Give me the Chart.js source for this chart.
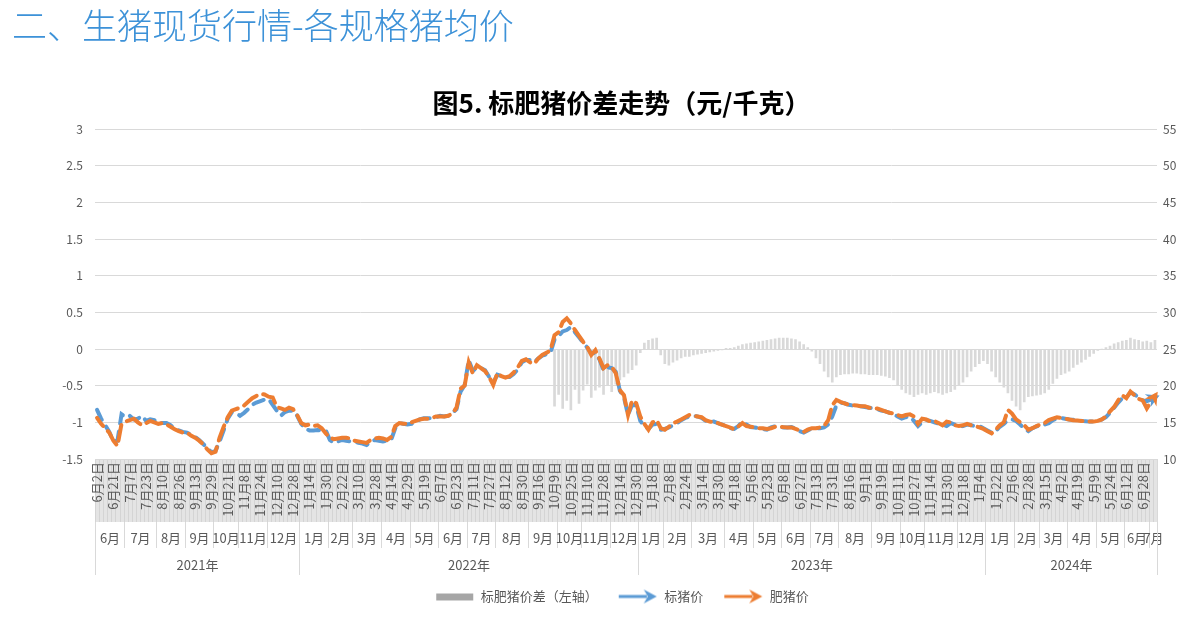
<!DOCTYPE html>
<html>
<head>
<meta charset="utf-8">
<script src="https://cdn.jsdelivr.net/npm/chart.js@4.4.1/dist/chart.umd.min.js"></script>
<style>
  html, body { margin: 0; padding: 0; background: #fff; }
  #wrap { position: relative; width: 1199px; height: 623px; }
  #head { position: absolute; left: 12px; top: -2px; font: 300 35px "Noto Sans CJK SC", sans-serif; color: #3d92d8; white-space: nowrap; }
  canvas { position: absolute; left: 0; top: 0; }
</style>
</head>
<body>
<div id="wrap">
  <canvas id="chart" width="1199" height="623"></canvas>
  <div id="head">二、生猪现货行情-各规格猪均价</div>
</div>
<script>
// day labels shown under the axis, one every 4 points
const dayLabels = [
  "6月2日", "6月21日", "7月7日", "7月23日", "8月10日", "8月26日", "9月13日", "9月29日", "10月21日", "11月8日", "11月24日", "12月10日", "12月28日",
  "1月14日", "1月30日", "2月22日", "3月10日", "3月28日", "4月14日", "4月29日", "5月19日", "6月7日", "6月23日", "7月11日", "7月27日", "8月12日", "8月30日", "9月16日", "10月9日", "10月25日", "11月10日", "11月28日", "12月14日", "12月30日",
  "1月18日", "2月8日", "2月24日", "3月14日", "3月30日", "4月18日", "5月6日", "5月23日", "6月8日", "6月27日", "7月13日", "7月31日", "8月16日", "9月1日", "9月19日", "10月11日", "10月27日", "11月14日", "11月30日", "12月18日",
  "1月4日", "1月22日", "2月6日", "2月28日", "3月15日", "4月2日", "4月19日", "5月9日", "5月24日", "6月12日", "6月28日"
];

const monthLabels = [
  "6月", "7月", "8月", "9月", "10月", "11月", "12月",
  "1月", "2月", "3月", "4月", "5月", "6月", "7月", "8月", "9月", "10月", "11月", "12月",
  "1月", "2月", "3月", "4月", "5月", "6月", "7月", "8月", "9月", "10月", "11月", "12月",
  "1月", "2月", "3月", "4月", "5月", "6月", "7月"
];
// number of points falling in each month
const monthCounts = [
  7, 8, 7, 7, 6, 7, 8,
  7, 6, 7, 7, 7, 7, 7, 8, 7, 6, 7, 7,
  6, 7, 8, 7, 7, 7, 7, 8, 7, 6, 8, 7,
  7, 6, 7, 7, 7, 6, 2
];
const yearLabels = ["2021年", "2022年", "2023年", "2024年"];
const yearMonths = [7, 12, 12, 7];

// 标猪价 (元/千克, right axis)
const stdPrice = [
  16.7, 15.5, 14.6, 13.7, 12.4, 12.5, 16.1, 15.7, 15.9, 15.4,
  15.5, 15.9, 15.2, 15.4, 15.3, 14.9, 14.9, 14.9, 14.6, 14.2,
  13.9, 13.7, 13.6, 13.3, 13.0, 12.6, 12.05, 11.5, 10.9, 11.1,
  12.4, 13.9, 15.5, 16.4, 16.3, 15.9, 16.3, 16.8, 17.4, 17.7,
  17.9, 18.1, 18.2, 17.4, 16.6, 15.9, 16.4, 16.6, 16.6, 15.9,
  14.8, 14.1, 13.9, 13.9, 13.95, 13.9, 13.9, 12.6, 12.2, 12.4,
  12.6, 12.5, 12.4, 12.4, 12.2, 12.1, 11.9, 12.3, 12.6, 12.5,
  12.4, 12.5, 12.6, 14.2, 14.9, 14.8, 14.7, 14.8, 15.1, 15.4,
  15.55, 15.55, 15.6, 15.7, 15.9, 15.8, 15.9, 16.3, 16.8, 19.2,
  20.1, 23.5, 22.0, 22.5, 22.4, 22.1, 21.2, 20.4, 21.5, 21.3,
  21.2, 21.2, 21.6, 22.2, 23.2, 23.5, 23.5, 23.2, 23.7, 24.1,
  24.3, 24.5, 26.3, 26.8, 27.4, 27.6, 28.0, 27.3, 26.6, 25.9,
  25.2, 24.4, 24.5, 23.6, 22.1, 22.5, 22.4, 21.9, 19.3, 18.4,
  16.0, 17.4, 17.3, 15.2, 14.5, 14.1, 14.7, 14.8, 14.0, 14.1,
  14.3, 14.6, 14.9, 15.3, 15.6, 15.8, 15.9, 15.8, 15.6, 15.2,
  15.1, 15.1, 14.9, 14.7, 14.5, 14.2, 14.1, 14.5, 15.1, 14.7,
  14.35, 14.3, 14.2, 14.1, 14.0, 14.3, 14.45, 14.4, 14.3, 14.3,
  14.35, 14.2, 13.8, 13.6, 13.9, 14.2, 14.2, 14.2, 14.3, 14.7,
  15.8, 17.3, 17.7, 17.6, 17.4, 17.3, 17.25, 17.2, 17.1, 17.0,
  16.9, 16.8, 16.6, 16.5, 16.3, 16.1, 15.8, 15.5, 15.7, 15.8,
  15.2, 14.5, 15.0, 15.3, 15.2, 15.0, 14.85, 14.7, 14.5, 14.9,
  14.7, 14.4, 14.5, 14.7, 14.6, 14.5, 14.5, 14.2, 13.9, 13.6,
  13.8, 14.4, 14.8, 15.3, 15.4, 15.2, 14.7, 14.1, 13.8, 14.2,
  14.45, 14.55, 14.7, 14.9, 15.3, 15.5, 15.6, 15.5, 15.4, 15.35,
  15.3, 15.2, 15.15, 15.1, 15.1, 15.2, 15.4, 15.7, 16.3, 17.0,
  17.7, 18.3, 18.4, 19.1, 18.8, 18.4, 18.0, 17.9, 18.1, 18.4
];

// 肥猪价 (元/千克, right axis)
const fatPrice = [
  15.6, 14.8, 14.2, 13.6, 12.5, 11.8, 14.8, 15.1, 15.3, 15.5,
  15.0, 14.6, 14.9, 15.2, 15.0, 14.8, 14.9, 14.7, 14.4, 14.05,
  13.8, 13.6, 13.6, 13.2, 12.9, 12.5, 12.0, 11.3, 10.8, 11.0,
  12.9, 14.4, 15.7, 16.6, 16.8, 17.0, 17.3, 17.8, 18.3, 18.6,
  18.9, 18.8, 18.5, 18.4, 17.1, 16.9, 16.7, 17.0, 16.8, 16.0,
  14.9, 14.6, 14.7, 14.5, 14.6, 14.2, 13.5, 12.9, 12.7, 12.8,
  12.9, 12.9, 12.8, 12.5, 12.4, 12.3, 12.2, 12.6, 12.8, 12.9,
  12.8, 12.6, 13.0, 14.5, 14.9, 14.8, 14.8, 15.0, 15.2, 15.4,
  15.5, 15.5, 15.6, 15.8, 15.8, 15.8, 15.9, 16.2, 17.0, 19.6,
  20.0, 23.2, 21.7, 22.8, 22.4, 22.0, 21.2, 20.1, 21.7, 21.3,
  21.1, 21.3, 21.8, 22.5, 23.4, 23.6, 23.2, 23.0, 23.7, 24.2,
  24.5, 24.8, 26.9, 27.3, 28.7, 29.2, 28.5, 27.6, 26.8, 26.0,
  25.3, 24.2, 24.85, 23.7, 22.4, 22.8, 22.6, 21.7, 19.4, 18.7,
  16.0, 18.0, 17.6, 15.8, 14.8, 14.0, 15.0, 15.3, 14.2, 14.0,
  14.4, 14.9, 15.1, 15.4, 15.7, 16.0, 15.9, 15.8, 15.7, 15.3,
  15.1, 15.0, 14.9, 14.7, 14.5, 14.3, 14.05, 14.45, 14.9, 14.5,
  14.4, 14.3, 14.2, 14.2, 14.1, 14.2, 14.4, 14.4, 14.35, 14.3,
  14.3, 14.1, 13.9, 13.7, 14.0, 14.2, 14.2, 14.3, 14.5, 15.3,
  17.35, 18.05, 17.8, 17.6, 17.4, 17.35, 17.3, 17.2, 17.2, 17.0,
  16.9, 16.9, 16.7, 16.5, 16.3, 16.2, 16.0, 15.8, 16.0, 16.1,
  15.8, 14.8, 15.5, 15.4, 15.1, 15.2, 14.9, 14.6, 15.1, 15.0,
  14.6, 14.5, 14.6, 14.8, 14.6, 14.5, 14.3, 14.1, 13.8, 13.5,
  14.0, 14.6, 15.0, 16.7, 16.2, 15.4, 15.0, 14.6, 14.0, 14.2,
  14.5, 14.7, 14.9, 15.3, 15.5, 15.7, 15.6, 15.5, 15.4, 15.3,
  15.25, 15.2, 15.15, 15.1, 15.1, 15.2, 15.4, 15.8, 16.5, 17.1,
  18.0, 18.7, 18.3, 19.2, 18.7, 18.2, 18.0, 16.9, 17.8, 18.6
];

// 标肥猪价差 (left axis), no values before Oct 2022
const priceDiff = new Array(112).fill(null).concat([
  -0.78, -0.62, -0.81, -0.70, -0.83, -0.55, -0.74, -0.56,
  -0.48, -0.66, -0.56, -0.52, -0.62, -0.50, -0.58, -0.48, -0.42, -0.38,
  -0.33, -0.28, -0.22, -0.05, 0.08, 0.12, 0.14, 0.15, -0.08, -0.2,
  -0.22, -0.18, -0.15, -0.12, -0.1, -0.1, -0.08, -0.07, -0.06, -0.05,
  -0.04, -0.03, -0.02, -0.01, 0.01, 0.01, 0.02, 0.04, 0.06, 0.07,
  0.08, 0.09, 0.1, 0.11, 0.12, 0.13, 0.14, 0.15, 0.15, 0.15,
  0.14, 0.13, 0.1, 0.06, 0.02, -0.03, -0.12, -0.2, -0.3, -0.38,
  -0.45, -0.38, -0.35, -0.34, -0.34, -0.33, -0.33, -0.34, -0.34, -0.35,
  -0.35, -0.35, -0.36, -0.37, -0.39, -0.42, -0.5, -0.55, -0.6, -0.62,
  -0.65, -0.62, -0.6, -0.62, -0.6, -0.58, -0.6, -0.62, -0.6, -0.58,
  -0.55, -0.5, -0.45, -0.38, -0.3, -0.24, -0.2, -0.16, -0.2, -0.3,
  -0.38, -0.45, -0.52, -0.6, -0.7, -0.78, -0.83, -0.72, -0.65, -0.64,
  -0.63, -0.62, -0.6, -0.55, -0.47, -0.4, -0.35, -0.33, -0.3, -0.25,
  -0.21, -0.18, -0.14, -0.1, -0.06, -0.02, 0.0, 0.02, 0.04, 0.07,
  0.09, 0.11, 0.12, 0.15, 0.13, 0.12, 0.1, 0.11, 0.09, 0.12
]);

const FONT = '"Noto Sans CJK SC", "Noto Sans", sans-serif';
const TEXT = "#595959";
const BLUE = "#5b9bd5";
const ORANGE = "#ed7d31";
const BARGREY = "#d9d9d9";

const labels = stdPrice.map((v, i) => (i % 4 === 0 ? dayLabels[i / 4] : ""));

function legendIcon(kind, color) {
  const c = document.createElement("canvas");
  c.width = 40;
  c.height = 16;
  const g = c.getContext("2d");
  g.fillStyle = color;
  if (kind === "bar") {
    g.fillStyle = "#a6a6a6";
    g.fillRect(2, 5, 37, 7);
  } else {
    g.strokeStyle = color;
    g.lineWidth = 3;
    g.beginPath();
    g.moveTo(1, 8);
    g.lineTo(29, 8);
    g.stroke();
    g.beginPath();
    g.moveTo(39, 8);
    g.lineTo(26, 1);
    g.lineTo(30, 8);
    g.lineTo(26, 15);
    g.closePath();
    g.fill();
  }
  return c;
}

// gray tick band + month / year rows under the day labels
const axisTable = {
  id: "axisTable",
  beforeDraw(chart) {
    const { ctx, chartArea: a, scales: { x } } = chart;
    const n = chart.data.labels.length;
    ctx.save();
    ctx.fillStyle = "#e4e4e4";
    ctx.fillRect(a.left, a.bottom + 1, a.right - a.left, 62);
    ctx.strokeStyle = "#d4d4d4";
    ctx.lineWidth = 1;
    ctx.beginPath();
    for (let i = 0; i <= n; i++) {
      const px = Math.round(x.getPixelForValue(i - 0.5)) + 0.5;
      ctx.moveTo(px, a.bottom + 1);
      ctx.lineTo(px, a.bottom + 63);
    }
    ctx.stroke();
    ctx.restore();
  },
  afterDraw(chart) {
    const { ctx, chartArea: a, scales: { x } } = chart;
    const top = a.bottom + 63;
    ctx.save();
    ctx.strokeStyle = "#d9d9d9";
    ctx.lineWidth = 1;
    ctx.fillStyle = TEXT;
    ctx.font = "13px " + FONT;
    ctx.textAlign = "center";
    ctx.textBaseline = "middle";
    const edge = (k) => Math.round(x.getPixelForValue(k - 0.5)) + 0.5;
    let k = 0;
    monthLabels.forEach((m, j) => {
      const x0 = edge(k);
      const x1 = edge(k + monthCounts[j]);
      ctx.beginPath();
      ctx.moveTo(x0, top);
      ctx.lineTo(x0, top + 26);
      ctx.stroke();
      ctx.fillText(m, (x0 + x1) / 2, top + 16);
      k += monthCounts[j];
    });
    let m = 0;
    k = 0;
    yearLabels.forEach((y, j) => {
      let cnt = 0;
      for (let t = 0; t < yearMonths[j]; t++) cnt += monthCounts[m + t];
      m += yearMonths[j];
      const x0 = edge(k);
      const x1 = edge(k + cnt);
      ctx.beginPath();
      ctx.moveTo(x0, top);
      ctx.lineTo(x0, top + 53);
      ctx.stroke();
      ctx.fillText(y, (x0 + x1) / 2, top + 43);
      k += cnt;
    });
    const xr = edge(k);
    ctx.beginPath();
    ctx.moveTo(xr, a.bottom);
    ctx.lineTo(xr, top + 53);
    ctx.stroke();
    ctx.restore();
  },
};

// arrow heads at the end of the price lines
const lineArrows = {
  id: "lineArrows",
  afterDatasetsDraw(chart) {
    const ctx = chart.ctx;
    [1, 2].forEach((di) => {
      const pts = chart.getDatasetMeta(di).data;
      const p2 = pts[pts.length - 1];
      const p1 = pts[pts.length - 3];
      const ang = Math.atan2(p2.y - p1.y, p2.x - p1.x);
      ctx.save();
      ctx.translate(p2.x, p2.y);
      ctx.rotate(ang);
      ctx.fillStyle = chart.data.datasets[di].borderColor;
      ctx.beginPath();
      ctx.moveTo(5, 0);
      ctx.lineTo(-8, -7);
      ctx.lineTo(-4, 0);
      ctx.lineTo(-8, 7);
      ctx.closePath();
      ctx.fill();
      ctx.restore();
    });
  },
};

const icons = [legendIcon("bar", BARGREY), legendIcon("line", BLUE), legendIcon("line", ORANGE)];

new Chart(document.getElementById("chart"), {
  type: "bar",
  data: {
    labels: labels,
    datasets: [
      {
        type: "bar",
        label: "标肥猪价差（左轴）",
        data: priceDiff,
        yAxisID: "y",
        backgroundColor: BARGREY,
        barThickness: 2,
        order: 3,
      },
      {
        type: "line",
        label: "标猪价",
        data: stdPrice,
        yAxisID: "y1",
        borderColor: BLUE,
        backgroundColor: BLUE,
        borderWidth: 4,
        borderDash: [11, 8],
        borderCapStyle: "round",
        pointRadius: 0,
        tension: 0,
        order: 2,
      },
      {
        type: "line",
        label: "肥猪价",
        data: fatPrice,
        yAxisID: "y1",
        borderColor: ORANGE,
        backgroundColor: ORANGE,
        borderWidth: 4,
        borderDash: [16, 7],
        borderDashOffset: 6,
        borderCapStyle: "round",
        pointRadius: 0,
        tension: 0,
        order: 1,
      },
    ],
  },
  options: {
    responsive: false,
    animation: false,
    layout: { padding: { top: 88, left: 44, right: 0, bottom: 10 } },
    plugins: {
      title: {
        display: true,
        text: "图5. 标肥猪价差走势（元/千克）",
        color: "#000",
        font: { size: 26, weight: "bold", family: FONT },
        padding: { top: 0, bottom: 10 },
      },
      legend: {
        position: "bottom",
        labels: {
          usePointStyle: true,
          pointStyleWidth: 40,
          padding: 20,
          color: TEXT,
          font: { size: 13, family: FONT },
          generateLabels: (chart) =>
            chart.data.datasets.map((ds, i) => ({
              text: ds.label,
              pointStyle: icons[i],
              fillStyle: ds.backgroundColor,
              strokeStyle: ds.backgroundColor,
              lineWidth: 0,
              fontColor: TEXT,
              hidden: false,
              datasetIndex: i,
            })),
        },
      },
      tooltip: { enabled: false },
    },
    scales: {
      x: {
        ticks: {
          autoSkip: false,
          maxRotation: 90,
          minRotation: 90,
          padding: 3,
          color: TEXT,
          font: { size: 13, family: FONT },
        },
        grid: { display: false, drawTicks: false },
        border: { display: false },
        afterFit(s) {
          s.height = 111;
        },
      },
      y: {
        position: "left",
        min: -1.5,
        max: 3,
        ticks: {
          stepSize: 0.5,
          padding: 12,
          color: TEXT,
          font: { size: 12, family: FONT },
          callback: (v) => String(Math.round(v * 10) / 10),
        },
        grid: { color: "#d9d9d9", lineWidth: 1, drawTicks: false },
        border: { display: false },
        afterFit(s) {
          s.width = 51;
        },
      },
      y1: {
        position: "right",
        min: 10,
        max: 55,
        ticks: { stepSize: 5, padding: 6, color: TEXT, font: { size: 12, family: FONT } },
        grid: { drawOnChartArea: false, drawTicks: false },
        border: { display: false },
        afterFit(s) {
          s.width = 42;
        },
      },
    },
  },
  plugins: [axisTable, lineArrows],
});
</script>
</body>
</html>
